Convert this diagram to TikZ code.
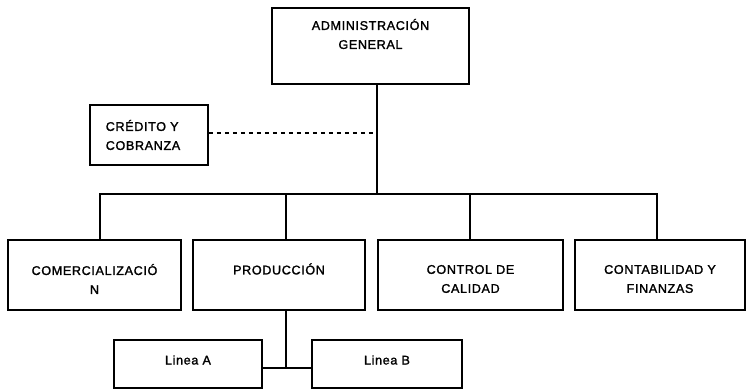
\documentclass[tikz,border=0pt]{standalone}
\usepackage{fontspec}
\setmainfont{Liberation Sans}[LetterSpace=5, FakeBold=1.6]
\begin{document}
\begin{tikzpicture}[x=1pt,y=-1pt,
  line width=1.6pt,
  box/.style={draw=black, line width=1.6pt, rectangle, inner sep=0pt},
  txt/.style={font=\fontsize{12.6}{19}\selectfont, align=center, inner sep=0pt},
  link/.style={draw=black, line width=1.6pt},
  dashlink/.style={draw=black, line width=1.3pt, dash pattern=on 4pt off 4pt}]
  \useasboundingbox (0,0) rectangle (750,391);

  % top management
  \node[box, minimum width=197pt, minimum height=76pt,
        label={[txt, yshift=12pt]center:ADMINISTRACIÓN\\GENERAL}] (adm) at (370.5,46) {};

  % staff unit
  \node[box, minimum width=118pt, minimum height=60pt,
        label={[txt, xshift=-6pt, align=left]center:CRÉDITO Y\\COBRANZA}] (cred) at (149,135) {};

  % departments
  \node[box, minimum width=173pt, minimum height=70pt,
        label={[txt, yshift=-4pt]center:COMERCIALIZACIÓ\\N}] (com) at (94.5,275) {};
  \node[box, minimum width=172pt, minimum height=70pt,
        label={[txt, yshift=6pt]center:PRODUCCIÓN}] (prod) at (279,275) {};
  \node[box, minimum width=185pt, minimum height=70pt,
        label={[txt, yshift=-4pt]center:CONTROL DE\\CALIDAD}] (cal) at (470.5,275) {};
  \node[box, minimum width=170pt, minimum height=70pt,
        label={[txt, yshift=-4pt]center:CONTABILIDAD Y\\FINANZAS}] (fin) at (660,275) {};

  % production lines
  \node[box, minimum width=148pt, minimum height=48pt,
        label={[txt, yshift=4pt]center:Linea A}] (la) at (188,364) {};
  \node[box, minimum width=150pt, minimum height=48pt,
        label={[txt, yshift=4pt]center:Linea B}] (lb) at (387,364) {};

  % connector points
  \coordinate (hub) at (377,194);
  \coordinate (pj) at (286,368);

  % main trunk and bus
  \draw[link] (adm.south -| hub) -- (hub);
  \draw[link] (com.north -| 100,0) |- (hub) -| (fin.north -| 657,0);
  \draw[link] (prod.north -| 286,0) -- (286,194);
  \draw[link] (cal.north -| 470,0) -- (470,194);

  % staff relation
  \draw[dashlink] (cred.east |- 0,133) -- (hub |- 0,133);

  % production to its lines
  \draw[link] (prod.south -| pj) -- (pj);
  \draw[link] (la.east |- pj) -- (lb.west |- pj);
\end{tikzpicture}
\end{document}
